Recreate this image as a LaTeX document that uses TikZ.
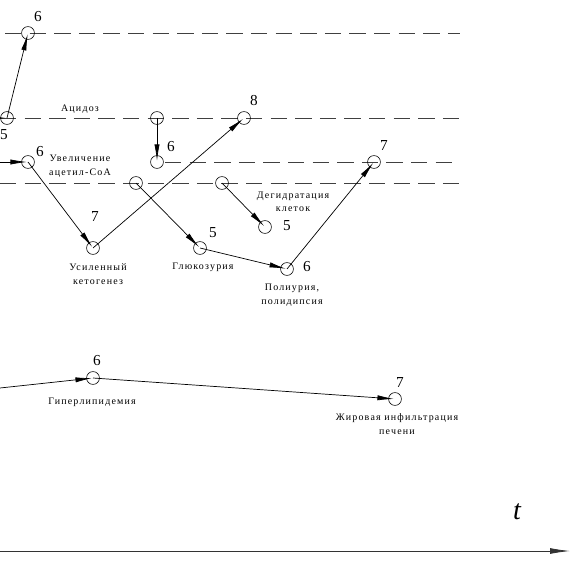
\documentclass[tikz,border=0pt]{standalone}
\usepackage{fontspec}
\setmainfont{Liberation Serif}
\newfontfamily\txtfont[LetterSpace=12]{Liberation Serif}
\usetikzlibrary{arrows.meta}

\begin{document}
\begin{tikzpicture}[x=0.03cm,y=-0.03cm,line join=round,
	>={Latex[length=14pt,width=4.4pt]},
	pnt/.style={circle,draw,line width=0.5pt,inner sep=0pt,minimum size=11pt},
	num/.style={font=\fontsize{13}{13}\selectfont,inner sep=0pt},
	txt/.style={font=\fontsize{8.5}{11.5}\txtfont,align=center,inner sep=0pt},
	arr/.style={->,line width=0.6pt,shorten >=1pt},
	lvl/.style={dash pattern=on 14pt off 7pt,line width=0.65pt,black!75}]
	\useasboundingbox (0,0) rectangle (584,565);
	\clip (0,0) rectangle (584,565);
	% levels
	\draw[lvl] (5,33)--(460,33) (0,118)--(460,118) (165,162)--(460,162) (0,183)--(460,183);
	% states
	\node[pnt] (A) at (28,33) {}; \node[pnt] (B) at (7,118) {}; \node[pnt] (C) at (28,162) {};
	\node[pnt] (D) at (157,118) {}; \node[pnt] (E) at (157,162) {}; \node[pnt] (F) at (244,118) {};
	\node[pnt] (G) at (93,248) {}; \node[pnt] (H) at (136,183) {}; \node[pnt] (I) at (200,248) {};
	\node[pnt] (J) at (222,183) {}; \node[pnt] (K) at (265,227) {}; \node[pnt] (L) at (287,269) {};
	\node[pnt] (M) at (374,162) {}; \node[pnt] (N) at (93,378) {}; \node[pnt] (O) at (395,399) {};
	\coordinate (inB) at (-20,118); \coordinate (inC) at (-60,162); \coordinate (inN) at (-93,398);
	% scores
	\node[num] (nA) at (38,17) {6}; \node[num] (nB) at (4,135) {5}; \node[num] (nC) at (40,152) {6};
	\node[num] (nE) at (171,147) {6}; \node[num] (nF) at (254,101) {8}; \node[num] (nG) at (95,217) {7};
	\node[num] (nI) at (213,233) {5}; \node[num] (nK) at (287,226) {5}; \node[num] (nL) at (307,267) {6};
	\node[num] (nM) at (384,146) {7}; \node[num] (nN) at (97,361) {6}; \node[num] (nO) at (400,383) {7};
	% names
	\node[txt] (acid) at (80,109) {Ацидоз};
	\node[txt] (acet) at (80,166) {Увеличение\\ацетил-СоА};
	\node[txt] (keto) at (98,274) {Усиленный\\кетогенез};
	\node[txt] (glu) at (203,267) {Глюкозурия};
	\node[txt] (dehy) at (293,202) {Дегидратация\\клеток};
	\node[txt] (poly) at (292,295) {Полиурия,\\полидипсия};
	\node[txt] (lip) at (92,402) {Гиперлипидемия};
	\node[txt] (liv) at (397,424) {Жировая инфильтрация\\печени};
	% transitions
	\draw[arr] (inB)--(B.center); \draw[arr] (B.center)--(A.center);
	\draw[arr] (inC)--(C.center); \draw[arr] (C.center)--(G.center); \draw[arr] (G.center)--(F.center);
	\draw[arr] (D.center)--(E.center); \draw[arr] (H.center)--(I.center); \draw[arr] (J.center)--(K.center);
	\draw[arr] (I.center)--(L.center); \draw[arr] (L.center)--(M.center);
	\draw[arr] (inN)--(N.center); \draw[arr] (N.center)--(O.center);
	% time axis
	\coordinate (t0) at (0,551); \coordinate (t1) at (570,551);
	\draw[-{Latex[length=17pt,width=5pt]},line width=0.7pt,black!80] (t0)--(t1);
	\node[font=\fontsize{24}{24}\selectfont\itshape,inner sep=0pt] (tl) at (517,512) {t};
\end{tikzpicture}
\end{document}
